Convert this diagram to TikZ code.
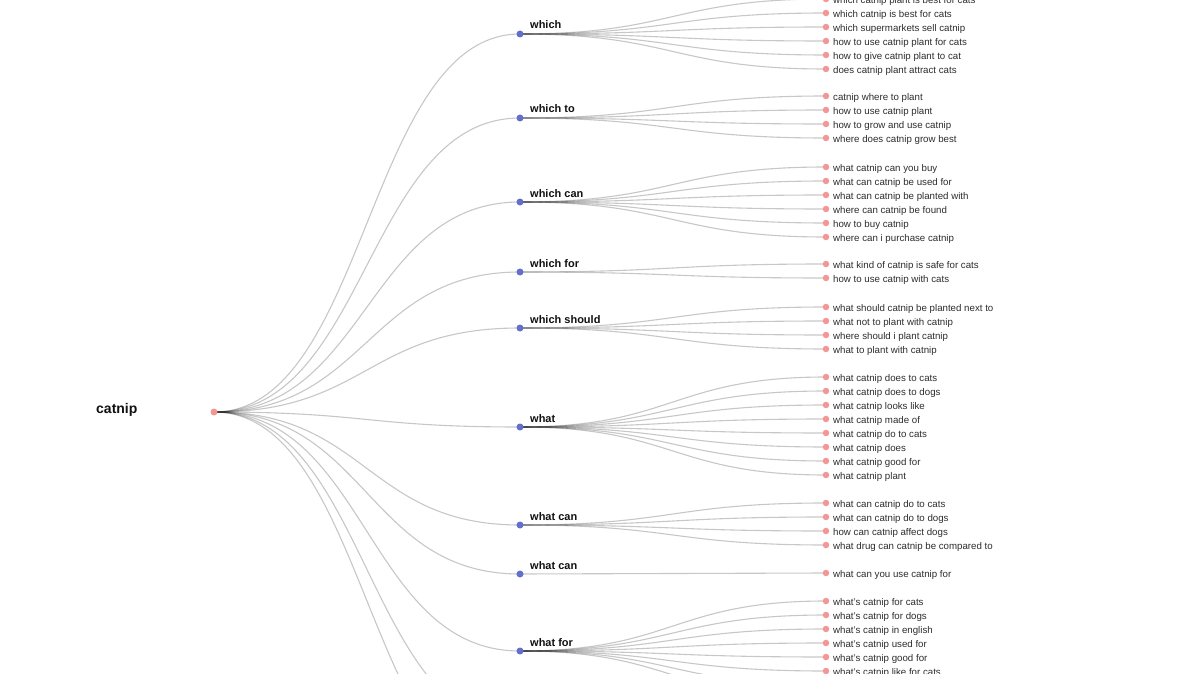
\documentclass[tikz,border=0pt]{standalone}
\usepackage{fontspec}
\setmainfont{Liberation Sans}
\definecolor{branchblue}{RGB}{98,112,204}
\definecolor{leafpink}{RGB}{242,150,150}
\definecolor{leaftext}{RGB}{45,45,45}
\definecolor{branchtext}{RGB}{17,17,17}
\tikzset{
  link/.style={draw=black, draw opacity=0.22, line width=1.1pt},
  leafdot/.style={circle, fill=leafpink, inner sep=0pt, minimum size=6.5pt},
  rootdot/.style={circle, fill=leafpink, inner sep=0pt, minimum size=7pt},
  branchdot/.style={circle, fill=branchblue, inner sep=0pt, minimum size=7pt},
  leaflabel/.style={anchor=base west, inner sep=0pt, text=leaftext, font=\fontsize{9.7}{11}\selectfont},
  branchlabel/.style={anchor=base west, inner sep=0pt, text=branchtext, font=\bfseries\fontsize{11}{13}\selectfont},
  rootlabel/.style={anchor=base west, inner sep=0pt, text=branchtext, font=\bfseries\fontsize{14}{16}\selectfont},
}
% #1 branch coordinate name, #2 y of first leaf, #3 list of leaf texts
\newcommand\leafgroup[3]{%
  \foreach \t [count=\i from 0] in {#3} {
    \pgfmathsetmacro\ly{#2+14*\i}
    \coordinate (#1-\i) at (826,\ly);
    \draw[link] (#1) .. controls +(153,0) and +(-153,0) .. (#1-\i);
    \node[leafdot] (#1-dot-\i) at (#1-\i) {};
    \node[leaflabel] (#1-lab-\i) at ([xshift=7pt,yshift=-4.3pt]#1-\i) {\t};
  }%
}
\newcommand\hiddenleaf[2]{%
  \coordinate (#1-h#2) at (826,#2);
  \draw[link] (#1) .. controls +(153,0) and +(-153,0) .. (#1-h#2);
}
\begin{document}
\begin{tikzpicture}[x=1pt,y=-1pt]
\useasboundingbox (0,0) rectangle (1200,674);
\begin{scope}
\clip (0,0) rectangle (1200,674);
\fill[white] (0,0) rectangle (1200,674);
\coordinate (root) at (214,412);
\coordinate (b1) at (520,34);
\coordinate (b2) at (520,118);
\coordinate (b3) at (520,202);
\coordinate (b4) at (520,272);
\coordinate (b5) at (520,328);
\coordinate (b6) at (520,427);
\coordinate (b7) at (520,525);
\coordinate (b8) at (520,574);
\coordinate (b9) at (520,651);
\coordinate (b10) at (520,727);
\coordinate (b11) at (520,790);
\foreach \b in {b1,b2,b3,b4,b5,b6,b7,b8,b9,b10,b11}
  \draw[link] (root) .. controls +(153,0) and +(-153,0) .. (\b);
\leafgroup{b1}{-1}{which catnip plant is best for cats,which catnip is best for cats,which supermarkets sell catnip,how to use catnip plant for cats,how to give catnip plant to cat,does catnip plant attract cats}
\leafgroup{b2}{96}{catnip where to plant,how to use catnip plant,how to grow and use catnip,where does catnip grow best}
\leafgroup{b3}{167}{what catnip can you buy,what can catnip be used for,what can catnip be planted with,where can catnip be found,how to buy catnip,where can i purchase catnip}
\leafgroup{b4}{264}{what kind of catnip is safe for cats,how to use catnip with cats}
\leafgroup{b5}{307}{what should catnip be planted next to,what not to plant with catnip,where should i plant catnip,what to plant with catnip}
\leafgroup{b6}{377}{what catnip does to cats,what catnip does to dogs,what catnip looks like,what catnip made of,what catnip do to cats,what catnip does,what catnip good for,what catnip plant}
\leafgroup{b7}{503}{what can catnip do to cats,what can catnip do to dogs,how can catnip affect dogs,what drug can catnip be compared to}
\leafgroup{b8}{573}{what can you use catnip for}
\leafgroup{b9}{601}{what's catnip for cats,what's catnip for dogs,what's catnip in english,what's catnip used for,what's catnip good for,what's catnip like for cats}
\hiddenleaf{b9}{685}
\hiddenleaf{b9}{699}
\node[rootdot] (rootdotn) at (root) {};
\node[rootlabel] (rootlab) at (96,413) {catnip};
\foreach \b/\lab in {b1/which,b2/which to,b3/which can,b4/which for,b5/which should,b6/what,b7/what can,b8/what can,b9/what for} {
  \node[branchdot] (\b-dot) at (\b) {};
  \node[branchlabel] (\b-lab) at ([xshift=10pt,yshift=5pt]\b) {\lab};
}
\end{scope}
\end{tikzpicture}
\end{document}
